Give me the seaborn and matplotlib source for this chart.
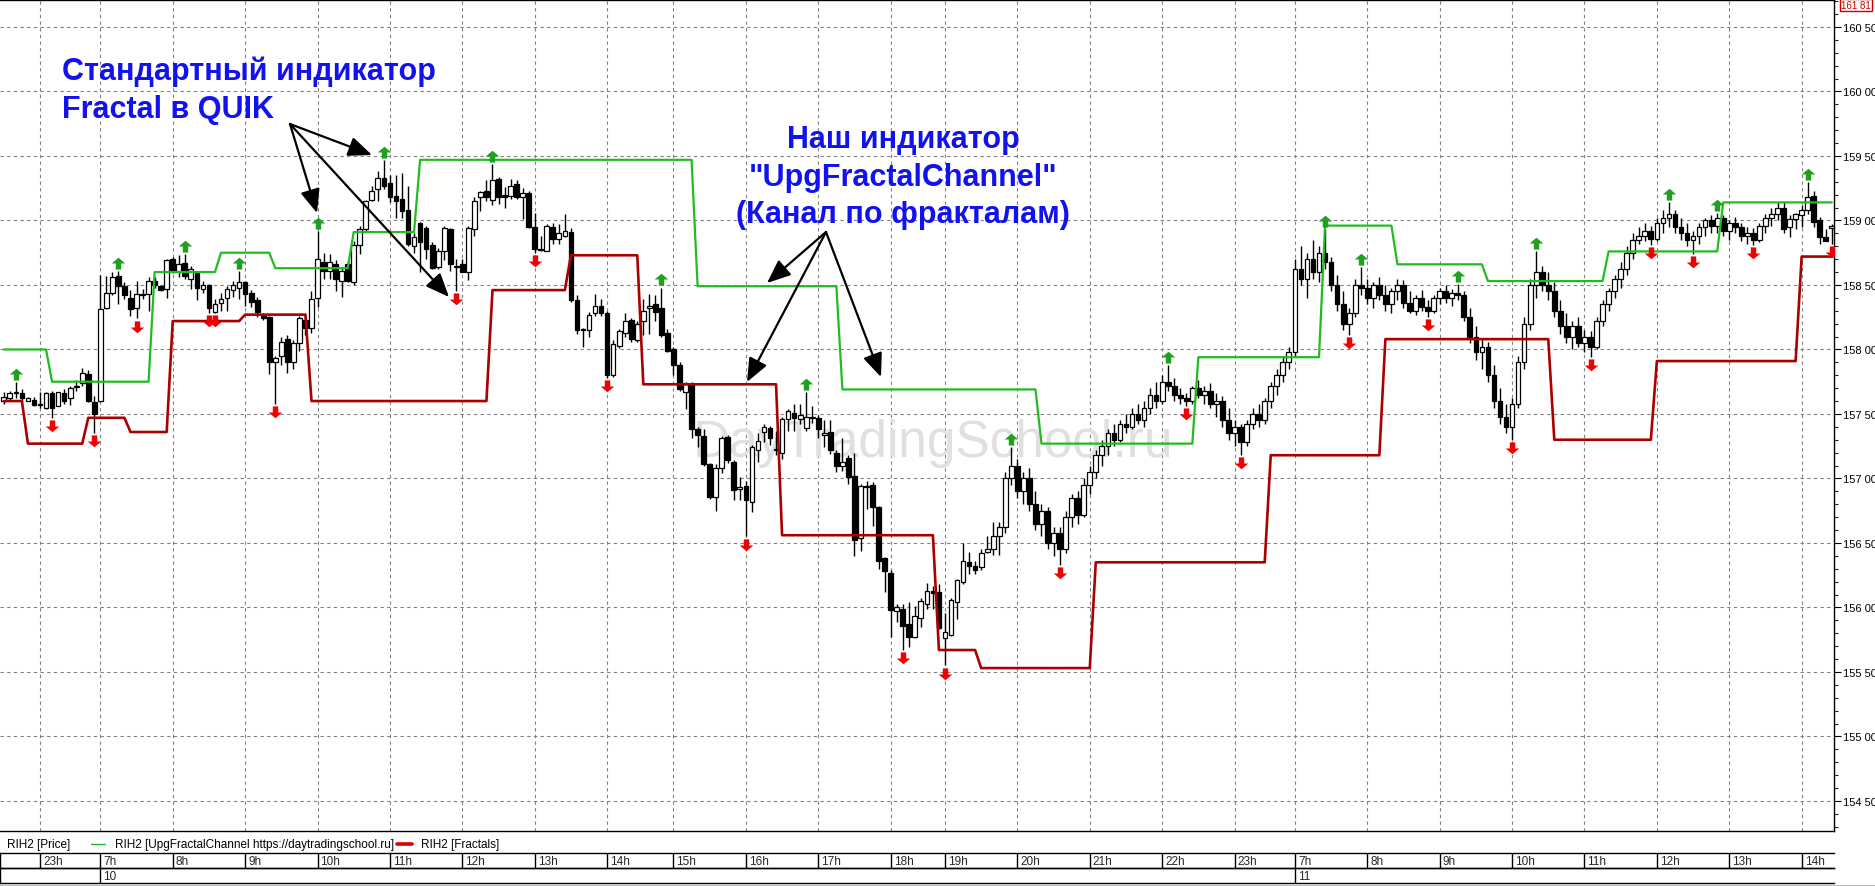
import matplotlib
matplotlib.use("Agg")
import matplotlib.pyplot as plt
import numpy as np
import pandas as pd
import seaborn as sns
from matplotlib.lines import Line2D
from matplotlib.patches import FancyArrowPatch
from matplotlib.path import Path

# 5-минутные свечи RIH2 (цена в тысячах пунктов), по 10 в строке
opens = [
    157.60, 157.62, 157.67, 157.66, 157.60, 157.61, 157.58, 157.55, 157.66, 157.56,
    157.66, 157.62, 157.71, 157.74, 157.81, 157.59, 157.60, 158.32, 158.44, 158.57,
    158.49, 158.40, 158.32, 158.42, 158.43, 158.53, 158.49, 158.47, 158.70, 158.61,
    158.67, 158.55, 158.59, 158.47, 158.50, 158.29, 158.36, 158.40, 158.46, 158.48,
    158.52, 158.44, 158.38, 158.26, 158.25, 157.90, 157.95, 158.08, 157.90, 158.05,
    158.23, 158.17, 158.40, 158.68, 158.61, 158.66, 158.53, 158.66, 158.52, 158.81,
    158.93, 159.16, 159.24, 159.33, 159.29, 159.19, 159.17, 159.08, 158.80, 158.98,
    158.94, 158.81, 158.64, 158.76, 158.93, 158.64, 158.66, 158.60, 158.93, 159.18,
    159.23, 159.16, 159.32, 159.20, 159.19, 159.28, 159.18, 159.21, 158.95, 158.78,
    158.76, 158.95, 158.86, 158.88, 158.91, 158.38, 158.16, 158.15, 158.28, 158.34,
    158.28, 157.80, 158.03, 158.13, 158.23, 158.07, 158.22, 158.32, 158.35, 158.32,
    158.13, 158.00, 157.88, 157.67, 157.73, 157.38, 157.33, 157.11, 156.86, 157.08,
    157.32, 157.13, 156.92, 156.94, 156.82, 157.22, 157.36, 157.39, 157.23, 157.20,
    157.46, 157.51, 157.46, 157.39, 157.48, 157.47, 157.34, 157.36, 157.20, 157.10,
    157.16, 157.02, 156.54, 156.93, 156.95, 156.78, 156.38, 156.27, 155.97, 155.99,
    155.87, 155.77, 155.92, 156.03, 156.13, 156.12, 155.76, 155.79, 156.04, 156.20,
    156.35, 156.32, 156.31, 156.43, 156.45, 156.55, 156.62, 157.00, 157.10, 156.90,
    157.00, 156.80, 156.65, 156.75, 156.50, 156.58, 156.45, 156.70, 156.85, 156.72,
    156.95, 157.05, 157.18, 157.25, 157.35, 157.30, 157.42, 157.40, 157.50, 157.45,
    157.55, 157.65, 157.60, 157.75, 157.72, 157.65, 157.62, 157.60, 157.70, 157.65,
    157.68, 157.58, 157.60, 157.45, 157.35, 157.40, 157.28, 157.42, 157.50, 157.45,
    157.60, 157.72, 157.80, 157.90, 157.98, 158.62, 158.55, 158.70, 158.60, 158.75,
    158.68, 158.50, 158.35, 158.20, 158.28, 158.50, 158.48, 158.40, 158.50, 158.42,
    158.35, 158.45, 158.50, 158.36, 158.30, 158.40, 158.33, 158.30, 158.40, 158.45,
    158.40, 158.44, 158.42, 158.25, 158.10, 157.98, 158.02, 157.80, 157.60, 157.48,
    157.40, 157.58, 157.90, 158.20, 158.50, 158.60, 158.50, 158.45, 158.30, 158.18,
    158.10, 158.18, 158.05, 158.10, 158.02, 158.22, 158.35, 158.45, 158.55, 158.62,
    158.75, 158.85, 158.88, 158.92, 158.86, 158.98, 159.02, 159.05, 158.95, 158.90,
    158.85, 158.88, 158.95, 159.00, 158.96, 159.02, 158.92, 158.98, 158.95, 158.88,
    158.90, 158.85, 158.96, 159.02, 159.05, 159.10, 158.95, 159.01, 159.04, 159.08,
    159.19, 159.00, 158.87, 158.94,
]
highs = [
    157.67, 157.68, 157.75, 157.69, 157.63, 157.63, 157.67, 157.67, 157.68, 157.67,
    157.69, 157.72, 157.76, 157.86, 157.84, 157.64, 158.58, 158.57, 158.60, 158.61,
    158.52, 158.46, 158.53, 158.47, 158.56, 158.56, 158.50, 158.70, 158.72, 158.73,
    158.74, 158.65, 158.61, 158.53, 158.51, 158.39, 158.44, 158.49, 158.53, 158.61,
    158.53, 158.46, 158.41, 158.28, 158.26, 157.95, 158.10, 158.11, 158.07, 158.26,
    158.27, 158.45, 158.92, 158.75, 158.74, 158.69, 158.63, 158.69, 158.84, 158.96,
    159.16, 159.27, 159.38, 159.47, 159.35, 159.35, 159.37, 159.27, 158.90, 158.99,
    158.96, 158.83, 158.79, 158.96, 158.94, 158.70, 158.70, 158.96, 159.18, 159.23,
    159.31, 159.44, 159.34, 159.26, 159.32, 159.31, 159.25, 159.23, 159.06, 158.88,
    158.97, 158.98, 158.97, 159.05, 158.94, 158.42, 158.17, 158.29, 158.43, 158.39,
    158.30, 158.07, 158.16, 158.28, 158.24, 158.22, 158.39, 158.43, 158.42, 158.48,
    158.16, 158.02, 157.90, 157.75, 157.75, 157.40, 157.38, 157.12, 157.11, 157.33,
    157.34, 157.14, 157.01, 156.98, 157.26, 157.35, 157.42, 157.41, 157.37, 157.48,
    157.54, 157.58, 157.58, 157.67, 157.56, 157.49, 157.45, 157.45, 157.22, 157.31,
    157.18, 157.20, 156.96, 156.98, 156.97, 156.79, 156.39, 156.29, 156.03, 156.03,
    156.04, 156.01, 156.07, 156.19, 156.17, 156.18, 155.96, 156.07, 156.22, 156.50,
    156.43, 156.36, 156.45, 156.55, 156.66, 156.66, 157.05, 157.24, 157.15, 157.05,
    157.08, 156.90, 156.80, 156.78, 156.62, 156.62, 156.75, 156.88, 156.90, 157.00,
    157.10, 157.22, 157.30, 157.38, 157.42, 157.45, 157.50, 157.55, 157.58, 157.60,
    157.70, 157.75, 157.80, 157.88, 157.78, 157.70, 157.66, 157.72, 157.76, 157.72,
    157.74, 157.66, 157.64, 157.55, 157.45, 157.42, 157.45, 157.55, 157.58, 157.62,
    157.75, 157.85, 157.95, 158.02, 158.70, 158.80, 158.75, 158.85, 158.80, 158.93,
    158.72, 158.58, 158.45, 158.32, 158.55, 158.64, 158.55, 158.52, 158.56, 158.50,
    158.48, 158.55, 158.54, 158.45, 158.42, 158.46, 158.38, 158.42, 158.48, 158.50,
    158.47, 158.51, 158.45, 158.32, 158.18, 158.08, 158.06, 157.88, 157.70, 157.58,
    157.62, 157.95, 158.25, 158.55, 158.76, 158.65, 158.60, 158.52, 158.38, 158.28,
    158.22, 158.25, 158.15, 158.14, 158.25, 158.38, 158.48, 158.58, 158.68, 158.80,
    158.90, 158.95, 158.98, 158.96, 159.02, 159.08, 159.14, 159.08, 159.02, 158.98,
    158.92, 158.98, 159.02, 159.04, 159.06, 159.04, 159.00, 159.03, 158.98, 158.95,
    158.94, 158.98, 159.05, 159.10, 159.14, 159.14, 159.04, 159.06, 159.12, 159.30,
    159.23, 159.03, 158.93, 158.97,
]
lows = [
    157.58, 157.60, 157.62, 157.60, 157.60, 157.56, 157.55, 157.54, 157.47, 157.56,
    157.58, 157.57, 157.68, 157.72, 157.59, 157.35, 157.59, 158.31, 158.42, 158.35,
    158.39, 158.26, 158.24, 158.39, 158.30, 158.48, 158.45, 158.40, 158.59, 158.56,
    158.55, 158.47, 158.38, 158.44, 158.28, 158.28, 158.30, 158.30, 158.41, 158.39,
    158.34, 158.33, 158.25, 158.23, 157.81, 157.58, 157.88, 157.82, 157.85, 157.99,
    158.11, 158.13, 158.33, 158.55, 158.55, 158.45, 158.41, 158.52, 158.50, 158.74,
    158.91, 159.15, 159.15, 159.24, 159.14, 159.02, 159.02, 158.80, 158.75, 158.60,
    158.70, 158.62, 158.62, 158.69, 158.61, 158.45, 158.60, 158.54, 158.88, 159.07,
    159.15, 159.12, 159.13, 159.10, 159.17, 159.17, 159.01, 158.94, 158.75, 158.76,
    158.76, 158.82, 158.82, 158.87, 158.37, 158.12, 158.02, 158.10, 158.26, 158.26,
    157.78, 157.79, 158.01, 158.10, 158.06, 158.06, 158.11, 158.12, 158.22, 158.10,
    157.98, 157.80, 157.68, 157.54, 157.31, 157.24, 157.10, 156.84, 156.75, 157.04,
    157.12, 156.83, 156.83, 156.55, 156.74, 157.13, 157.28, 157.26, 157.18, 157.15,
    157.37, 157.37, 157.42, 157.37, 157.43, 157.31, 157.24, 157.19, 157.05, 157.06,
    156.96, 156.40, 156.44, 156.76, 156.63, 156.30, 156.12, 155.77, 155.89, 155.67,
    155.69, 155.76, 155.85, 155.99, 155.99, 155.83, 155.55, 155.78, 155.91, 156.18,
    156.26, 156.26, 156.29, 156.42, 156.41, 156.41, 156.58, 156.95, 156.85, 156.80,
    156.75, 156.60, 156.55, 156.45, 156.40, 156.33, 156.42, 156.62, 156.65, 156.70,
    156.88, 157.00, 157.10, 157.18, 157.25, 157.28, 157.35, 157.38, 157.42, 157.40,
    157.50, 157.55, 157.58, 157.68, 157.60, 157.58, 157.56, 157.58, 157.62, 157.58,
    157.55, 157.48, 157.40, 157.30, 157.25, 157.18, 157.25, 157.38, 157.40, 157.42,
    157.55, 157.65, 157.75, 157.85, 157.95, 158.50, 158.40, 158.55, 158.52, 158.62,
    158.45, 158.30, 158.15, 158.11, 158.25, 158.42, 158.35, 158.32, 158.38, 158.30,
    158.28, 158.38, 158.32, 158.28, 158.27, 158.30, 158.25, 158.28, 158.35, 158.36,
    158.34, 158.38, 158.22, 158.05, 157.92, 157.85, 157.75, 157.55, 157.42, 157.35,
    157.30, 157.55, 157.85, 158.15, 158.40, 158.45, 158.38, 158.25, 158.12, 158.05,
    158.00, 158.02, 157.98, 157.94, 158.00, 158.18, 158.30, 158.40, 158.48, 158.58,
    158.70, 158.82, 158.84, 158.81, 158.84, 158.90, 158.95, 158.90, 158.85, 158.80,
    158.74, 158.82, 158.88, 158.90, 158.90, 158.88, 158.85, 158.90, 158.84, 158.82,
    158.81, 158.83, 158.90, 158.96, 159.00, 158.90, 158.87, 158.93, 158.95, 159.05,
    158.95, 158.82, 158.84, 158.82,
]
closes = [
    157.63, 157.66, 157.66, 157.62, 157.62, 157.57, 157.57, 157.66, 157.55, 157.67,
    157.60, 157.70, 157.72, 157.82, 157.60, 157.50, 158.31, 158.44, 158.56, 158.49,
    158.42, 158.31, 158.43, 158.43, 158.53, 158.50, 158.46, 158.69, 158.61, 158.66,
    158.57, 158.62, 158.48, 158.50, 158.32, 158.35, 158.39, 158.47, 158.50, 158.52,
    158.43, 158.37, 158.29, 158.24, 157.90, 157.93, 158.06, 157.90, 158.05, 158.24,
    158.17, 158.39, 158.70, 158.61, 158.68, 158.55, 158.61, 158.53, 158.81, 158.93,
    159.15, 159.23, 159.33, 159.27, 159.18, 159.15, 159.07, 158.82, 158.87, 158.83,
    158.78, 158.63, 158.76, 158.94, 158.66, 158.64, 158.60, 158.94, 159.15, 159.22,
    159.18, 159.31, 159.18, 159.18, 159.27, 159.18, 159.21, 158.95, 158.78, 158.77,
    158.96, 158.86, 158.90, 158.92, 158.38, 158.15, 158.15, 158.27, 158.34, 158.28,
    157.80, 158.04, 158.14, 158.22, 158.08, 158.20, 158.30, 158.34, 158.29, 158.11,
    157.99, 157.88, 157.69, 157.73, 157.38, 157.34, 157.11, 156.86, 157.08, 157.31,
    157.14, 156.91, 156.93, 156.83, 157.24, 157.29, 157.40, 157.31, 157.22, 157.46,
    157.52, 157.47, 157.49, 157.48, 157.47, 157.38, 157.35, 157.22, 157.10, 157.13,
    157.01, 156.52, 156.94, 156.94, 156.78, 156.36, 156.28, 155.98, 156.00, 155.86,
    155.77, 155.93, 156.05, 156.13, 156.11, 155.84, 155.81, 156.06, 156.21, 156.36,
    156.32, 156.29, 156.42, 156.45, 156.55, 156.62, 157.00, 157.10, 156.90, 157.00,
    156.80, 156.65, 156.75, 156.50, 156.58, 156.45, 156.70, 156.85, 156.72, 156.95,
    157.05, 157.18, 157.25, 157.35, 157.30, 157.42, 157.40, 157.50, 157.45, 157.55,
    157.65, 157.60, 157.75, 157.72, 157.65, 157.62, 157.60, 157.70, 157.65, 157.68,
    157.58, 157.60, 157.45, 157.35, 157.40, 157.28, 157.42, 157.50, 157.45, 157.60,
    157.72, 157.80, 157.90, 157.98, 158.62, 158.55, 158.70, 158.60, 158.75, 158.68,
    158.50, 158.35, 158.20, 158.28, 158.50, 158.48, 158.40, 158.50, 158.42, 158.35,
    158.45, 158.50, 158.36, 158.30, 158.40, 158.33, 158.30, 158.40, 158.45, 158.40,
    158.44, 158.42, 158.25, 158.10, 157.98, 158.02, 157.80, 157.60, 157.48, 157.40,
    157.58, 157.90, 158.20, 158.50, 158.60, 158.50, 158.45, 158.30, 158.18, 158.10,
    158.18, 158.05, 158.10, 158.02, 158.22, 158.35, 158.45, 158.55, 158.62, 158.75,
    158.85, 158.88, 158.92, 158.86, 158.98, 159.02, 159.05, 158.95, 158.90, 158.85,
    158.88, 158.95, 159.00, 158.96, 159.02, 158.92, 158.98, 158.95, 158.88, 158.90,
    158.85, 158.96, 159.02, 159.05, 159.10, 158.93, 159.01, 159.05, 159.08, 159.18,
    158.99, 158.87, 158.84, 158.96,
]

# канал по фракталам: номер свечи, с которой действует уровень, и сам уровень
upper_starts = [0, 8, 25, 36, 45, 58, 69, 115, 139, 172, 198, 219, 231, 246, 266, 285]
upper_levels = [158.00, 157.75, 158.60, 158.75, 158.63, 158.91, 159.47, 158.49,
                157.69, 157.27, 157.94, 158.96, 158.66, 158.53, 158.76, 159.14]
lower_starts = [0, 4, 14, 21, 28, 40, 51, 81, 94, 106, 129, 155, 162, 181, 210,
                229, 257, 274, 298]
lower_levels = [157.60, 157.27, 157.47, 157.36, 158.22, 158.27, 157.60, 158.46,
                158.73, 157.73, 156.56, 155.67, 155.53, 156.35, 157.18, 158.08,
                157.30, 157.91, 158.72]

# стандартные фракталы QUIK (номера свечей)
up_fractals = [2, 19, 30, 39, 52, 63, 81, 109, 133, 167, 193, 219, 225, 241, 254,
               276, 284, 299]
down_fractals = [8, 15, 22, 34, 35, 45, 75, 88, 100, 123, 149, 156, 175, 196, 205,
                 223, 236, 250, 263, 273, 280, 290, 303]

# шкала времени
hour_pos = [6, 16, 28, 40, 52, 64, 76, 88, 100, 111, 123, 135, 147, 156, 168, 180,
            192, 204, 214, 226, 238, 250, 262, 274, 286, 298]
hour_labels = ["23h", "7h", "8h", "9h", "10h", "11h", "12h", "13h", "14h", "15h",
               "16h", "17h", "18h", "19h", "20h", "21h", "22h", "23h", "7h", "8h",
               "9h", "10h", "11h", "12h", "13h", "14h"]
date_pos = [16, 214]
date_labels = ["10", "11"]
price_ticks = [154.5, 155.0, 155.5, 156.0, 156.5, 157.0, 157.5, 158.0, 158.5,
               159.0, 159.5, 160.0, 160.5]

sns.set_style("white")
plt.rcParams["font.family"] = ["Liberation Sans Narrow", "Liberation Sans", "DejaVu Sans"]

W, H = 1875, 887
fig = plt.figure(figsize=(W / 100, H / 100), dpi=100)
fig.patch.set_facecolor("white")


def fx(x):
    return x / W


def fy(y):
    return 1 - y / H


ax = fig.add_axes([0, fy(832), fx(1834), fy(1) - fy(832)])
n = len(closes)
idx = np.arange(n)
xlim = (-0.63, 303.36)
ax.set_xlim(*xlim)
ax.set_ylim(154.267, 160.709)

# сетка и ось цен справа
ax.set_yticks(price_ticks)
ax.set_yticks(np.arange(154.3, 160.75, 0.1), minor=True)
ax.set_yticklabels([f"{int(v)} {int(round(v * 100)) % 100:02d}" for v in price_ticks])
ax.yaxis.tick_right()
ax.tick_params(axis="y", which="major", length=5, width=0.8, pad=1.5, labelsize=8,
               direction="out", colors="black")
ax.tick_params(axis="y", which="minor", length=3, width=0.8, direction="out")
ax.set_xticks(hour_pos)
ax.tick_params(axis="x", length=0, labelbottom=False)
ax.grid(True, which="major", color="#808080", linestyle=(0, (3, 3)), linewidth=0.8)
ax.set_axisbelow(True)
for side in ["top", "right", "bottom"]:
    ax.spines[side].set_color("black")
    ax.spines[side].set_linewidth(1.0)
ax.spines["left"].set_visible(False)

# водяной знак
ax.text(fx(693), fy(457), "DayTradingSchool.ru", transform=fig.transFigure,
        fontsize=37, color="#E0E0E0", family=["Liberation Sans", "DejaVu Sans"],
        ha="left", va="baseline", zorder=1)

# свечи
o = np.array(opens)
h = np.array(highs)
l = np.array(lows)
c = np.array(closes)
rise = c >= o
ax.vlines(idx, l, h, color="black", linewidth=1.0, zorder=3)
body_low = np.minimum(o, c)
body_h = np.maximum(np.abs(c - o), 0.006)
ax.bar(idx[rise], body_h[rise], bottom=body_low[rise], width=0.78, color="white",
       edgecolor="black", linewidth=0.9, zorder=4)
ax.bar(idx[~rise], body_h[~rise], bottom=body_low[~rise], width=0.78, color="black",
       edgecolor="black", linewidth=0.9, zorder=4)

# канал
upper = np.repeat(upper_levels, np.diff(upper_starts + [n]))
lower = np.repeat(lower_levels, np.diff(lower_starts + [n]))
chan = pd.DataFrame({"bar": idx, "upper": upper, "lower": lower})
sns.lineplot(data=chan, x="bar", y="upper", color="#22BB22", linewidth=1.6, ax=ax, zorder=5)
sns.lineplot(data=chan, x="bar", y="lower", color="#AA0000", linewidth=1.9, ax=ax, zorder=5)
ax.set_xlabel("")
ax.set_ylabel("")
ax.set_xlim(*xlim)

# стрелки фракталов
up_arrow = Path([(0, 1), (1, 0.15), (0.4, 0.15), (0.4, -0.75), (-0.4, -0.75),
                 (-0.4, 0.15), (-1, 0.15), (0, 1)], closed=True)
down_arrow = Path([(x, -y) for x, y in up_arrow.vertices], closed=True)
ax.scatter(up_fractals, h[up_fractals] + 0.055, marker=up_arrow, s=95,
           color="#1FA01F", linewidths=0, zorder=6)
ax.scatter(down_fractals, l[down_fractals] - 0.055, marker=down_arrow, s=95,
           color="#F00000", linewidths=0, zorder=6)

# подписи
blue = "#1212F0"
bold = dict(color=blue, fontsize=22, fontweight="bold",
            family=["Liberation Sans", "DejaVu Sans"], va="center")
fig.text(fx(62), fy(72), "Стандартный индикатор", ha="left", **bold)
fig.text(fx(62), fy(110), "Fractal в QUIK", ha="left", **bold)
fig.text(fx(903), fy(140), "Наш индикатор", ha="center", **bold)
fig.text(fx(903), fy(178), "\"UpgFractalChannel\"", ha="center", **bold)
fig.text(fx(903), fy(215), "(Канал по фракталам)", ha="center", **bold)

arrow_kw = dict(arrowstyle="-|>,head_length=0.6,head_width=0.25", color="black",
                lw=1.6, mutation_scale=24, shrinkA=0, shrinkB=0)
for (x0, y0), (x1, y1) in [((290, 125), (372, 156)), ((290, 125), (317, 214)),
                           ((290, 125), (449, 298)), ((826, 233), (767, 284)),
                           ((826, 233), (747, 383)), ((826, 233), (881, 378))]:
    fig.add_artist(FancyArrowPatch((fx(x0), fy(y0)), (fx(x1), fy(y1)),
                                   transform=fig.transFigure, **arrow_kw))

# последняя цена вверху справа
fig.text(fx(1841), fy(6), "161 81", color="#CC0000", fontsize=7, va="center",
         ha="left", bbox=dict(boxstyle="square,pad=0.12", fc="white", ec="#CC0000", lw=1))

# строка легенды
small = dict(fontsize=8.5, color="black", va="center")
fig.text(fx(7), fy(845), "RIH2 [Price]", **small)
fig.add_artist(Line2D([fx(91), fx(105)], [fy(845), fy(845)], color="#22BB22", lw=1.0))
fig.text(fx(115), fy(845), "RIH2 [UpgFractalChannel https://daytradingschool.ru]", **small)
fig.add_artist(Line2D([fx(397), fx(412)], [fy(845), fy(845)], color="#DD0000", lw=2.6))
fig.text(fx(421), fy(845), "RIH2 [Fractals]", **small)

# строки часов и дат
for top, bottom, pos, labels in [(854, 869, hour_pos, hour_labels),
                                 (869, 884, date_pos, date_labels)]:
    axr = fig.add_axes([0, fy(bottom), fx(1834), fy(top) - fy(bottom)])
    axr.set_xlim(*xlim)
    axr.set_ylim(0, 1)
    axr.set_xticks([])
    axr.set_yticks([])
    axr.patch.set_alpha(0)
    for side in ["top", "bottom", "left"]:
        axr.spines[side].set_color("black")
        axr.spines[side].set_linewidth(1.0)
    axr.spines["right"].set_visible(False)
    axr.vlines(pos, 0, 1, color="black", linewidth=1.0)
    for p, t in zip(pos, labels):
        axr.text(p + 0.5, 0.45, t, fontsize=8.5, ha="left", va="center")

fig.add_artist(Line2D([0, 1], [fy(886.5), fy(886.5)], color="#C0C0C0", lw=1.5))

fig.savefig("out.png", dpi=100, facecolor="white")
